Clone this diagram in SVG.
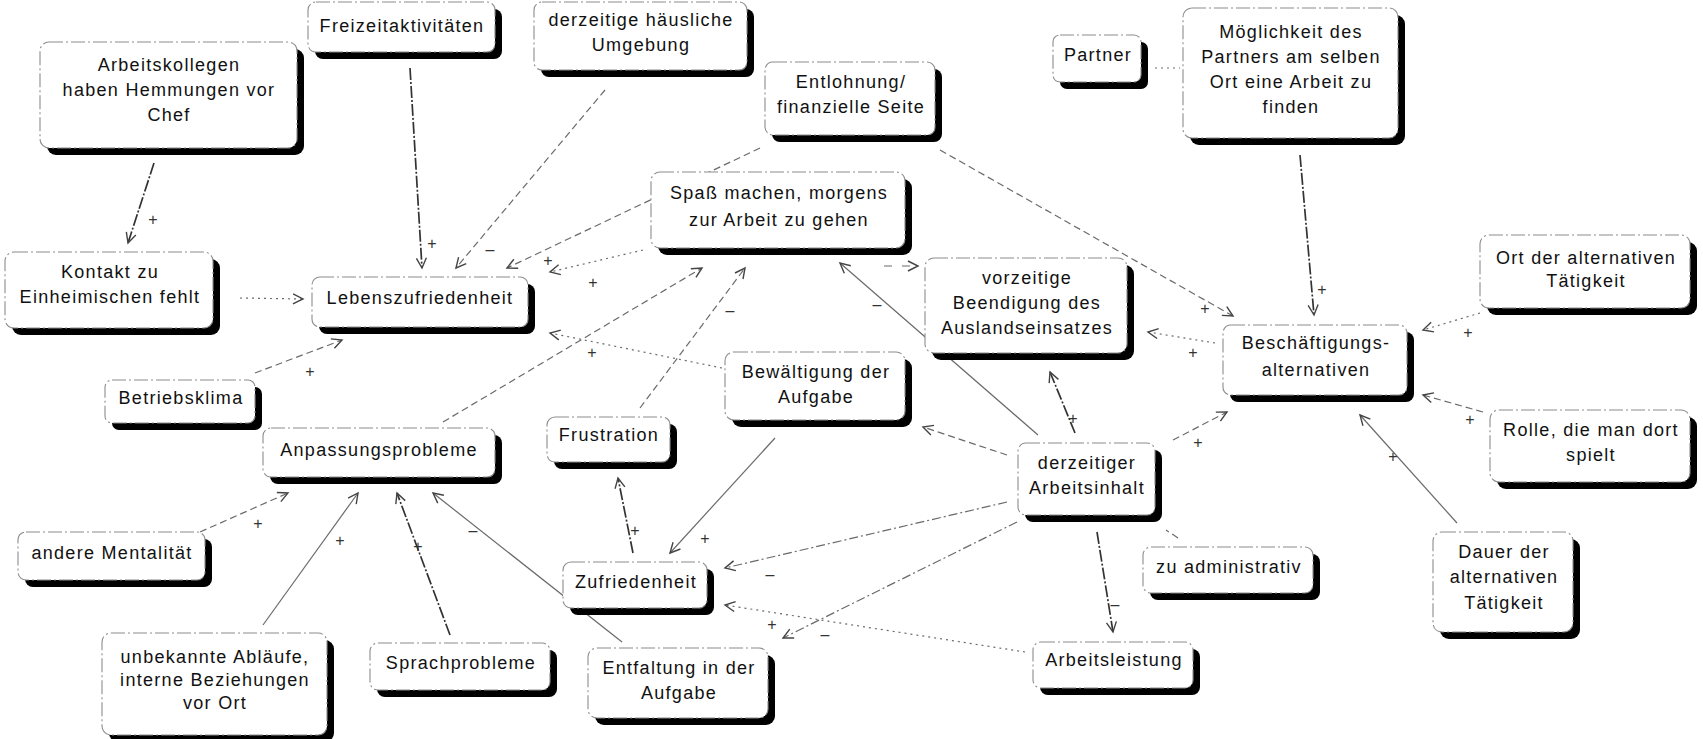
<svg xmlns="http://www.w3.org/2000/svg" width="1703" height="739" viewBox="0 0 1703 739">
<style>
.bg{fill:#fff}
.sh{fill:#000}
.bx{fill:#fff;stroke:#8c8c8c;stroke-width:1.1;stroke-dasharray:14 3 2 3}
.t{font-family:"Liberation Sans",Arial,sans-serif;font-size:18px;letter-spacing:1.3px;fill:#111;text-anchor:middle}
.l{font-family:"Liberation Sans",Arial,sans-serif;font-size:16px;fill:#333;text-anchor:middle}
.c{fill:none;stroke:#6a6a6a;stroke-width:1.2}
.solid{}
.dash{stroke-dasharray:7 4}
.dot{stroke-dasharray:2 4}
.dd{stroke-dasharray:9 3 2 3}
.dark{stroke:#333;stroke-width:1.7;stroke-dasharray:12 2 2 2}
.arr{marker-end:url(#ah)}
</style>
<defs>
<marker id="ah" markerUnits="userSpaceOnUse" markerWidth="14" markerHeight="12" refX="11" refY="6" orient="auto">
<path d="M1,1 L11,6 L1,11" fill="none" stroke="#444" stroke-width="1.4"/>
</marker>
</defs>
<rect class="bg" x="0" y="0" width="1703" height="739"/>
<g id="connectors">
<path class="c dark arr" d="M410,68 L422,268"/>
<path class="c dash arr" d="M605,90 L456,268"/>
<path class="c dash arr" d="M760,148 L507,268"/>
<path class="c dark arr" d="M154,163 L128,243"/>
<path class="c dot arr" d="M240,298 L303,299"/>
<path class="c dash arr" d="M255,373 L342,340"/>
<path class="c dot arr" d="M643,250 L550,272"/>
<path class="c dash arr" d="M443,422 L702,268"/>
<path class="c dash arr" d="M640,408 L745,268"/>
<path class="c solid arr" d="M1038,435 L840,263"/>
<path class="c arr" style="stroke-dasharray:8 10" d="M884,266 L918,266"/>
<path class="c dash arr" d="M940,150 L1233,316"/>
<path class="c dot" d="M1155,68 L1180,68"/>
<path class="c dark arr" d="M1300,155 L1314,315"/>
<path class="c dot arr" d="M1215,343 L1148,332"/>
<path class="c dot arr" d="M1480,313 L1423,330"/>
<path class="c dash arr" d="M1483,412 L1423,395"/>
<path class="c solid arr" d="M1457,523 L1360,415"/>
<path class="c dash arr" d="M1173,440 L1227,412"/>
<path class="c dark arr" d="M1075,433 L1050,372"/>
<path class="c dash arr" d="M1007,455 L923,427"/>
<path class="c dd arr" d="M1007,502 L725,568"/>
<path class="c dd arr" d="M1017,522 L783,638"/>
<path class="c dot arr" d="M1025,652 L725,605"/>
<path class="c dark arr" d="M1097,532 L1113,632"/>
<path class="c dash" d="M1178,538 L1166,530"/>
<path class="c solid arr" d="M775,438 L670,553"/>
<path class="c dark arr" d="M633,553 L618,478"/>
<path class="c dot arr" d="M722,368 L550,333"/>
<path class="c solid arr" d="M622,642 L433,493"/>
<path class="c dark arr" d="M450,635 L397,493"/>
<path class="c solid arr" d="M263,625 L358,493"/>
<path class="c dash arr" d="M200,532 L288,493"/>
<g id="labels">
<text class="l" x="432" y="249">+</text>
<text class="l" x="490" y="255">–</text>
<text class="l" x="153" y="225">+</text>
<text class="l" x="310" y="377">+</text>
<text class="l" x="593" y="288">+</text>
<text class="l" x="548" y="266">+</text>
<text class="l" x="730" y="316">–</text>
<text class="l" x="877" y="310">–</text>
<text class="l" x="1205" y="314">+</text>
<text class="l" x="1322" y="295">+</text>
<text class="l" x="1193" y="358">+</text>
<text class="l" x="1468" y="338">+</text>
<text class="l" x="1470" y="425">+</text>
<text class="l" x="1393" y="462">+</text>
<text class="l" x="1198" y="448">+</text>
<text class="l" x="1073" y="424">+</text>
<text class="l" x="770" y="580">–</text>
<text class="l" x="825" y="640">–</text>
<text class="l" x="772" y="630">+</text>
<text class="l" x="1115" y="610">–</text>
<text class="l" x="705" y="544">+</text>
<text class="l" x="635" y="536">+</text>
<text class="l" x="592" y="358">+</text>
<text class="l" x="473" y="536">–</text>
<text class="l" x="418" y="552">+</text>
<text class="l" x="340" y="546">+</text>
<text class="l" x="258" y="529">+</text>
</g>
</g>
<g id="n-freizeit"><rect class="sh" x="315" y="9" width="187" height="50" rx="8"/><rect class="bx" x="308" y="2" width="187" height="50" rx="8"/><text class="t" x="402" y="32">Freizeitaktivitäten</text></g>
<g id="n-haeuslich"><rect class="sh" x="541" y="9" width="213" height="68" rx="8"/><rect class="bx" x="534" y="2" width="213" height="68" rx="8"/><text class="t" x="641" y="26">derzeitige häusliche</text><text class="t" x="641" y="51">Umgebung</text></g>
<g id="n-kollegen"><rect class="sh" x="47" y="49" width="257" height="106" rx="9"/><rect class="bx" x="40" y="42" width="257" height="106" rx="9"/><text class="t" x="169" y="71">Arbeitskollegen</text><text class="t" x="169" y="96">haben Hemmungen vor</text><text class="t" x="169" y="121">Chef</text></g>
<g id="n-entlohnung"><rect class="sh" x="772" y="69" width="170" height="73" rx="8"/><rect class="bx" x="765" y="62" width="170" height="73" rx="8"/><text class="t" x="851" y="88">Entlohnung/</text><text class="t" x="851" y="113">finanzielle Seite</text></g>
<g id="n-partner"><rect class="sh" x="1060" y="42" width="88" height="47" rx="7"/><rect class="bx" x="1053" y="35" width="88" height="47" rx="7"/><text class="t" x="1098" y="61">Partner</text></g>
<g id="n-moeglichkeit"><rect class="sh" x="1190" y="15" width="215" height="130" rx="9"/><rect class="bx" x="1183" y="8" width="215" height="130" rx="9"/><text class="t" x="1291" y="38">Möglichkeit des</text><text class="t" x="1291" y="63">Partners am selben</text><text class="t" x="1291" y="88">Ort eine Arbeit zu</text><text class="t" x="1291" y="113">finden</text></g>
<g id="n-spass"><rect class="sh" x="658" y="179" width="254" height="76" rx="9"/><rect class="bx" x="651" y="172" width="254" height="76" rx="9"/><text class="t" x="779" y="199">Spaß machen, morgens</text><text class="t" x="779" y="226">zur Arbeit zu gehen</text></g>
<g id="n-lebensz"><rect class="sh" x="319" y="284" width="216" height="50" rx="8"/><rect class="bx" x="312" y="277" width="216" height="50" rx="8"/><text class="t" x="420" y="304">Lebenszufriedenheit</text></g>
<g id="n-kontakt"><rect class="sh" x="12" y="259" width="208" height="76" rx="9"/><rect class="bx" x="5" y="252" width="208" height="76" rx="9"/><text class="t" x="110" y="278">Kontakt zu</text><text class="t" x="110" y="303">Einheimischen fehlt</text></g>
<g id="n-vorzeitig"><rect class="sh" x="932" y="265" width="202" height="95" rx="9"/><rect class="bx" x="925" y="258" width="202" height="95" rx="9"/><text class="t" x="1027" y="284">vorzeitige</text><text class="t" x="1027" y="309">Beendigung des</text><text class="t" x="1027" y="334">Auslandseinsatzes</text></g>
<g id="n-beschaeft"><rect class="sh" x="1230" y="332" width="184" height="70" rx="8"/><rect class="bx" x="1223" y="325" width="184" height="70" rx="8"/><text class="t" x="1316" y="349">Beschäftigungs-</text><text class="t" x="1316" y="376">alternativen</text></g>
<g id="n-ort"><rect class="sh" x="1487" y="242" width="210" height="73" rx="9"/><rect class="bx" x="1480" y="235" width="210" height="73" rx="9"/><text class="t" x="1586" y="264">Ort der alternativen</text><text class="t" x="1586" y="287">Tätigkeit</text></g>
<g id="n-rolle"><rect class="sh" x="1497" y="417" width="200" height="72" rx="9"/><rect class="bx" x="1490" y="410" width="200" height="72" rx="9"/><text class="t" x="1591" y="436">Rolle, die man dort</text><text class="t" x="1591" y="461">spielt</text></g>
<g id="n-dauer"><rect class="sh" x="1440" y="539" width="140" height="100" rx="9"/><rect class="bx" x="1433" y="532" width="140" height="100" rx="9"/><text class="t" x="1504" y="558">Dauer der</text><text class="t" x="1504" y="583">alternativen</text><text class="t" x="1504" y="609">Tätigkeit</text></g>
<g id="n-betrieb"><rect class="sh" x="112" y="387" width="150" height="43" rx="7"/><rect class="bx" x="105" y="380" width="150" height="43" rx="7"/><text class="t" x="181" y="404">Betriebsklima</text></g>
<g id="n-anpassung"><rect class="sh" x="270" y="435" width="232" height="49" rx="8"/><rect class="bx" x="263" y="428" width="232" height="49" rx="8"/><text class="t" x="379" y="456">Anpassungsprobleme</text></g>
<g id="n-mentalitaet"><rect class="sh" x="25" y="539" width="187" height="48" rx="8"/><rect class="bx" x="18" y="532" width="187" height="48" rx="8"/><text class="t" x="112" y="559">andere Mentalität</text></g>
<g id="n-ablaeufe"><rect class="sh" x="109" y="640" width="225" height="102" rx="9"/><rect class="bx" x="102" y="633" width="225" height="102" rx="9"/><text class="t" x="215" y="663">unbekannte Abläufe,</text><text class="t" x="215" y="686">interne Beziehungen</text><text class="t" x="215" y="709">vor Ort</text></g>
<g id="n-sprach"><rect class="sh" x="377" y="650" width="180" height="47" rx="8"/><rect class="bx" x="370" y="643" width="180" height="47" rx="8"/><text class="t" x="461" y="669">Sprachprobleme</text></g>
<g id="n-frustration"><rect class="sh" x="554" y="424" width="123" height="45" rx="8"/><rect class="bx" x="547" y="417" width="123" height="45" rx="8"/><text class="t" x="609" y="441">Frustration</text></g>
<g id="n-bewaeltigung"><rect class="sh" x="732" y="359" width="180" height="68" rx="9"/><rect class="bx" x="725" y="352" width="180" height="68" rx="9"/><text class="t" x="816" y="378">Bewältigung der</text><text class="t" x="816" y="403">Aufgabe</text></g>
<g id="n-zufriedenheit"><rect class="sh" x="570" y="569" width="144" height="46" rx="8"/><rect class="bx" x="563" y="562" width="144" height="46" rx="8"/><text class="t" x="636" y="588">Zufriedenheit</text></g>
<g id="n-entfaltung"><rect class="sh" x="595" y="655" width="180" height="70" rx="9"/><rect class="bx" x="588" y="648" width="180" height="70" rx="9"/><text class="t" x="679" y="674">Entfaltung in der</text><text class="t" x="679" y="699">Aufgabe</text></g>
<g id="n-arbeitsinhalt"><rect class="sh" x="1025" y="450" width="137" height="72" rx="8"/><rect class="bx" x="1018" y="443" width="137" height="72" rx="8"/><text class="t" x="1087" y="469">derzeitiger</text><text class="t" x="1087" y="494">Arbeitsinhalt</text></g>
<g id="n-administrativ"><rect class="sh" x="1150" y="554" width="170" height="46" rx="8"/><rect class="bx" x="1143" y="547" width="170" height="46" rx="8"/><text class="t" x="1229" y="573">zu administrativ</text></g>
<g id="n-arbeitsleistung"><rect class="sh" x="1040" y="649" width="160" height="46" rx="8"/><rect class="bx" x="1033" y="642" width="160" height="46" rx="8"/><text class="t" x="1114" y="666">Arbeitsleistung</text></g>
</svg>
